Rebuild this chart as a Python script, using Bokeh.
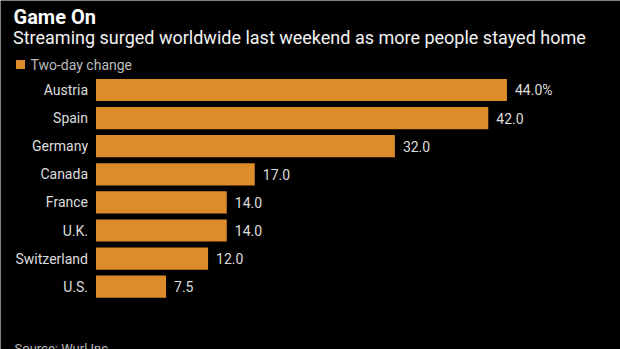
from bokeh.plotting import figure
from bokeh.models import Range1d, ColumnDataSource, Label
from bokeh.core.properties import value
from bokeh.embed import file_html
from bokeh.resources import INLINE
import numpy as np

countries = ["Austria", "Spain", "Germany", "Canada", "France", "U.K.", "Switzerland", "U.S."]
changes = [44.0, 42.0, 32.0, 17.0, 14.0, 14.0, 12.0, 7.5]
value_labels = ["44.0%", "42.0", "32.0", "17.0", "14.0", "14.0", "12.0", "7.5"]
title = "Game On"
subtitle = "Streaming surged worldwide last weekend as more people stayed home"
legend_label = "Two-day change"
source_note = "Source: Wurl Inc."

W, H = 620, 349
X0 = 95.5          # pixel where value 0 sits
PXU = 9.34         # pixels per unit
Y0 = 89.5          # pixel centre of first row
ROW = 28.1         # pixels per row

def dx(px):
    return (px - X0) / PXU

def dy(py):
    return (py - Y0) / ROW

FONT = "Roboto"
BAR = "#DC8C2B"

p = figure(width=W, height=H, output_backend="svg", toolbar_location=None,
           x_range=Range1d(dx(0), dx(W)), y_range=Range1d(dy(H), dy(0)),
           min_border=0, background_fill_color="black", border_fill_color="black",
           outline_line_color=None)
p.axis.visible = False
p.grid.visible = False

src = ColumnDataSource(dict(y=np.arange(len(countries)), v=changes, c=countries, lab=value_labels))
p.hbar(y="y", right="v", left=0, height=0.79, source=src, fill_color=BAR, line_color=None)

p.text(x=0, y="y", text="c", source=src, x_offset=-8, text_align="right", text_baseline="middle",
       text_font=value(FONT), text_font_size="14px", text_color="#dddddd")
p.text(x="v", y="y", text="lab", source=src, x_offset=8, text_align="left", text_baseline="middle",
       text_font=value(FONT), text_font_size="14px", text_color="#dddddd")

p.add_layout(Label(x=dx(13), y=dy(16.5), text=title, text_font=FONT, text_font_size="20px",
                   text_font_style="bold", text_color="white", text_baseline="alphabetic"))
p.add_layout(Label(x=dx(12.5), y=dy(36.5), text=subtitle, text_font=FONT, text_font_size="18px",
                   text_color="#f2f2f2", text_baseline="alphabetic"))
p.scatter(x=[dx(20)], y=[dy(64)], marker="square", size=9, fill_color=BAR, line_color=None)
p.add_layout(Label(x=dx(30), y=dy(64.5), text=legend_label, text_font=FONT, text_font_size="14px",
                   text_color="#bbbbbb", text_baseline="alphabetic"))
p.add_layout(Label(x=dx(14), y=dy(340), text=source_note, text_font=FONT, text_font_size="13px",
                   text_color="#bbbbbb", text_baseline="top"))
p.add_layout(Label(x=dx(542), y=dy(345), text="Bloomberg", text_font=FONT, text_font_size="18px",
                   text_font_style="bold", text_color="white", text_baseline="top"))

open("out.html", "w").write(file_html(p, INLINE))
